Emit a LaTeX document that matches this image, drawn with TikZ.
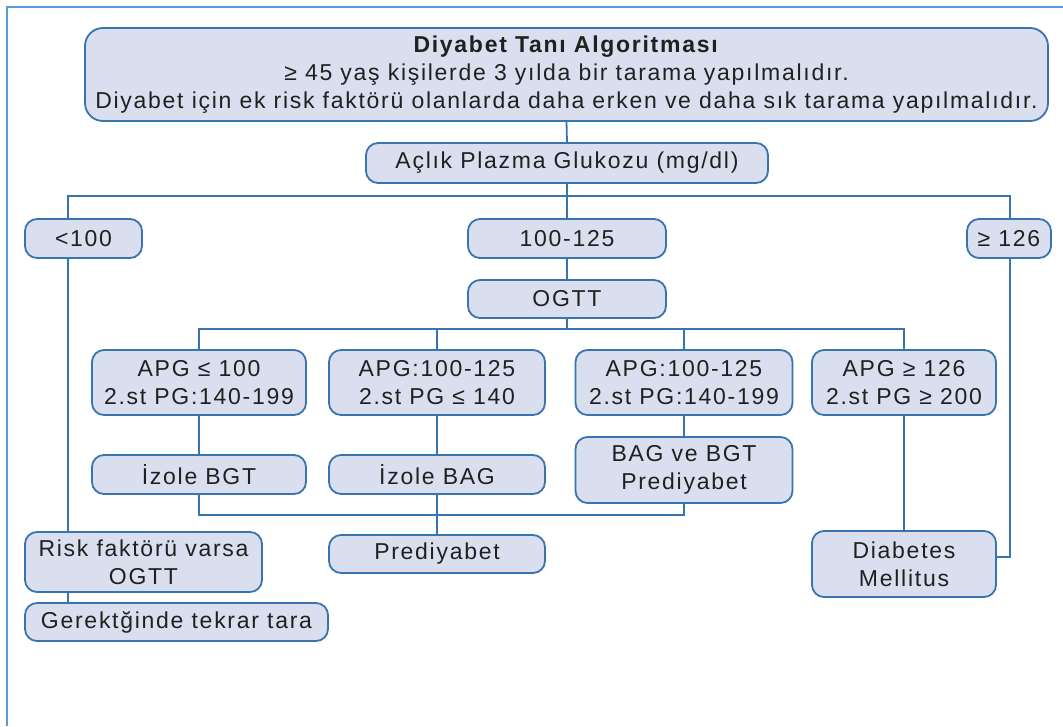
\documentclass[tikz,border=0pt]{standalone}
\usepackage{fontspec}
\setmainfont[LetterSpace=7.5]{Liberation Sans}
\definecolor{boxfill}{HTML}{D9DFEE}
\definecolor{boxline}{HTML}{3A74AE}
\definecolor{frameblue}{HTML}{5B9BD5}
\definecolor{txt}{HTML}{202020}
\tikzset{
  box/.style={draw=boxline, fill=boxfill, line width=1.8pt, rounded corners=12pt,
    text=txt, align=center, inner sep=0pt, font=\fontsize{23}{28}\selectfont},
  conn/.style={draw=boxline, line width=1.8pt},
}
\begin{document}
\begin{tikzpicture}[x=1pt,y=-1pt]
\useasboundingbox (0,0) rectangle (1063,726);
% frame
\draw[frameblue, line width=1.5pt] (7,726) -- (7,7) -- (1063,7);
% nodes
\node[box, rounded corners=18pt, minimum width=963pt, minimum height=93pt] (title) at (566.5,74.5)
  {\textbf{Diyabet Tanı Algoritması}\\ ≥ 45 yaş kişilerde 3 yılda bir tarama yapılmalıdır.\\ Diyabet için ek risk faktörü olanlarda daha erken ve daha sık tarama yapılmalıdır.};
\node[box, minimum width=402pt, minimum height=40pt] (aclik) at (567,163) {Açlık Plazma Glukozu (mg/dl)};
\node[box, minimum width=117pt, minimum height=39pt] (lt) at (83.5,238.5) {<100};
\node[box, minimum width=198pt, minimum height=39pt] (mid) at (567,238.5) {100-125};
\node[box, minimum width=84pt, minimum height=39pt] (ge) at (1009,238.5) {≥ 126};
\node[box, minimum width=198pt, minimum height=38pt] (ogtt) at (567,299) {OGTT};
\node[box, minimum width=214pt, minimum height=65pt] (a1) at (199,382.5) {APG ≤ 100\\2.st PG:140-199};
\node[box, minimum width=216pt, minimum height=65pt] (a2) at (437,382.5) {APG:100-125\\2.st PG ≤ 140};
\node[box, minimum width=217pt, minimum height=65pt] (a3) at (684,382.5) {APG:100-125\\2.st PG:140-199};
\node[box, minimum width=184pt, minimum height=65pt] (a4) at (904,382.5) {APG ≥ 126\\2.st PG ≥ 200};
\node[box, minimum width=214pt, minimum height=39pt] (b1) at (199,474.5) {İzole BGT};
\node[box, minimum width=216pt, minimum height=39pt] (b2) at (437,474.5) {İzole BAG};
\node[box, minimum width=217pt, minimum height=66pt] (b3) at (684,470) {BAG ve BGT\\Prediyabet};
\node[box, minimum width=216pt, minimum height=38pt] (pre) at (437,554) {Prediyabet};
\node[box, minimum width=237pt, minimum height=60pt] (risk) at (143.5,562) {Risk faktörü varsa\\OGTT};
\node[box, minimum width=303pt, minimum height=38pt] (ger) at (176.5,622) {Gerektğinde tekrar tara};
\node[box, minimum width=184pt, minimum height=66pt] (dm) at (904,564) {Diabetes\\Mellitus};
% junction coordinates
\coordinate (j1) at (567,196);
\coordinate (lx) at (68,196);
\coordinate (rx) at (1010,196);
\coordinate (j2) at (567,329);
\coordinate (j3) at (0,515);
\coordinate (rc) at (1010,557);
% connectors
\draw[conn] (title.south) -- (aclik.north);
\draw[conn] (aclik.south) -- (j1);
\draw[conn] (lt.north -| lx) -- (lx) -- (rx) -- (ge.north -| rx);
\draw[conn] (j1) -- (mid.north);
\draw[conn] (mid.south) -- (ogtt.north);
\draw[conn] (ogtt.south) -- (j2);
\draw[conn] (a1.north) -- (a1.north |- j2) -- (a4.north |- j2) -- (a4.north);
\draw[conn] (a2.north) -- (a2.north |- j2);
\draw[conn] (a3.north) -- (a3.north |- j2);
\draw[conn] (a1.south) -- (b1.north);
\draw[conn] (a2.south) -- (b2.north);
\draw[conn] (a3.south) -- (b3.north);
\draw[conn] (b1.south) -- (b1.south |- j3) -- (b3.south |- j3) -- (b3.south);
\draw[conn] (b2.south) -- (pre.north);
\draw[conn] (a4.south) -- (dm.north);
\draw[conn] (lt.south -| lx) -- (risk.north -| lx);
\draw[conn] (risk.south -| lx) -- (ger.north -| lx);
\draw[conn] (ge.south -| rc) -- (rc) -- (rc -| dm.east);
\end{tikzpicture}
\end{document}
